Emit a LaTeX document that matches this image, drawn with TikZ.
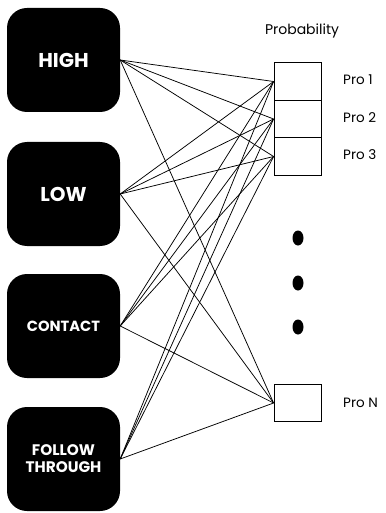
\documentclass[tikz,border=0pt]{standalone}
\usepackage{fontspec}
\setmainfont{Poppins}
\begin{document}
\begin{tikzpicture}[x=1pt,y=-1pt,
  inbox/.style={fill=black,rounded corners=20pt,minimum width=113pt,minimum height=104pt,inner sep=0pt,text=white,align=center},
  probox/.style={draw=black,line width=0.8pt,fill=white,minimum width=47pt,minimum height=37.5pt,inner sep=0pt},
  lbl/.style={anchor=west,font=\fontsize{13.5}{15}\selectfont,inner sep=0pt},
  conn/.style={line width=0.75pt,black}]
\useasboundingbox (0,0) rectangle (385,513);
\node[inbox,font=\bfseries\fontsize{20}{22}\selectfont] (high) at (63.5,60) {HIGH};
\node[inbox,font=\bfseries\fontsize{20}{22}\selectfont] (low) at (63.5,194) {LOW};
\node[inbox,font=\bfseries\fontsize{14.7}{17}\selectfont] (contact) at (63.5,326) {CONTACT};
\node[inbox,font=\bfseries\fontsize{15.3}{17}\selectfont] (follow) at (63.5,459) {FOLLOW\\THROUGH};
\node[probox] (p1) at (297.5,81.5) {};
\node[probox] (p2) at (297.5,119) {};
\node[probox] (p3) at (297.5,156.5) {};
\node[probox] (pn) at (297.5,403) {};
\node[font=\fontsize{14}{16}\selectfont] (title) at (302,31) {Probability};
\node[lbl] (l1) at (343,80) {Pro 1};
\node[lbl] (l2) at (343,118) {Pro 2};
\node[lbl] (l3) at (343,155) {Pro 3};
\node[lbl] (ln) at (343,403) {Pro N};
\foreach \s in {high,low,contact,follow}{
  \foreach \t in {p1,p2,p3,pn}{
    \draw[conn] (\s.east) -- (\t.west);
  }
}
\fill (298,238) ellipse (5.5pt and 7.5pt);
\fill (298,283) ellipse (5.5pt and 7.5pt);
\fill (298,327) ellipse (5.5pt and 7.5pt);
\end{tikzpicture}
\end{document}
